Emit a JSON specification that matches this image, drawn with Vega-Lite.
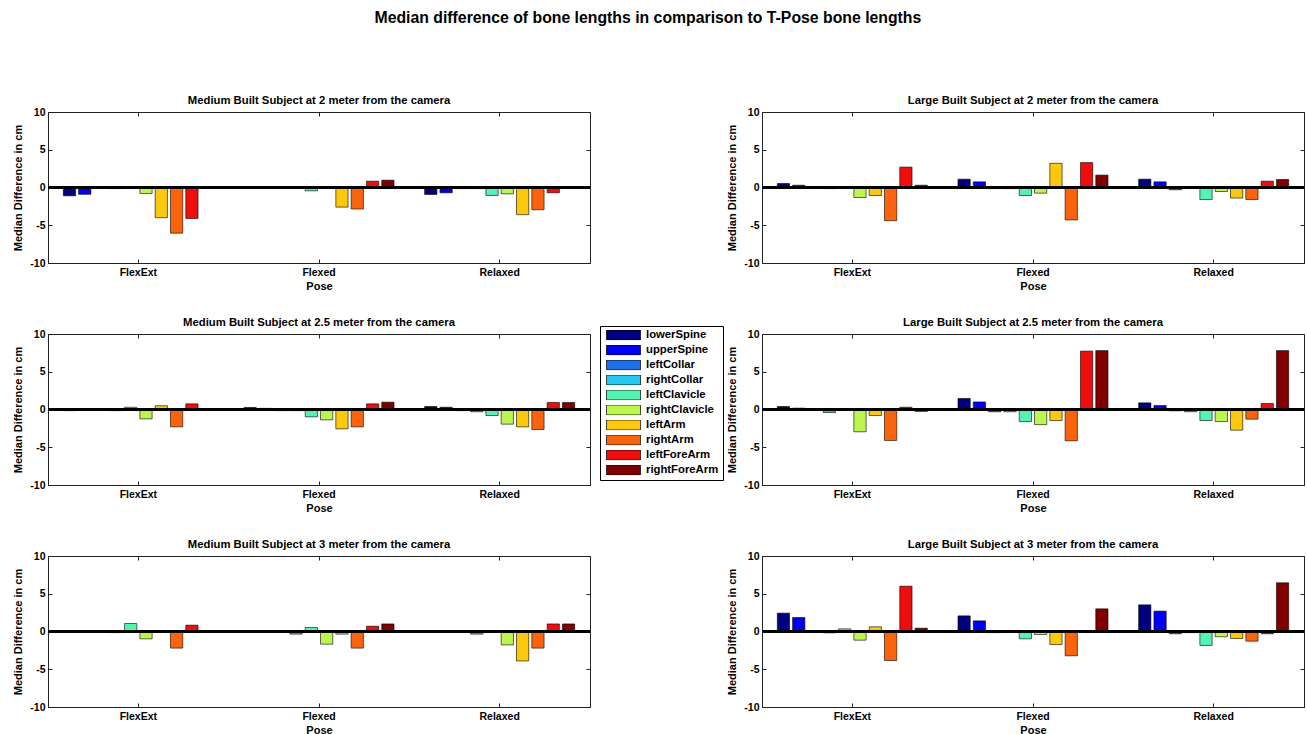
{
  "$schema": "https://vega.github.io/schema/vega-lite/v6.json",
  "padding": {"left": 12, "top": 10, "right": 0, "bottom": 0},
  "title": {"text": "Median difference of bone lengths in comparison to T-Pose bone lengths", "fontSize": 15.8, "fontWeight": "bold", "font": "Liberation Sans", "anchor": "middle", "offset": 67, "dx": -11, "color": "#000"},
  "data": {"values": [
    {"p":"M2","pose":"FlexExt","bone":"lowerSpine","v":-1.1},{"p":"M2","pose":"FlexExt","bone":"upperSpine","v":-0.9},{"p":"M2","pose":"FlexExt","bone":"leftCollar","v":0},{"p":"M2","pose":"FlexExt","bone":"rightCollar","v":-0.15},{"p":"M2","pose":"FlexExt","bone":"leftClavicle","v":0},{"p":"M2","pose":"FlexExt","bone":"rightClavicle","v":-0.8},{"p":"M2","pose":"FlexExt","bone":"leftArm","v":-4.0},{"p":"M2","pose":"FlexExt","bone":"rightArm","v":-6.05},{"p":"M2","pose":"FlexExt","bone":"leftForeArm","v":-4.1},{"p":"M2","pose":"FlexExt","bone":"rightForeArm","v":0},
    {"p":"M2","pose":"Flexed","bone":"lowerSpine","v":0.1},{"p":"M2","pose":"Flexed","bone":"upperSpine","v":0},{"p":"M2","pose":"Flexed","bone":"leftCollar","v":0},{"p":"M2","pose":"Flexed","bone":"rightCollar","v":0},{"p":"M2","pose":"Flexed","bone":"leftClavicle","v":-0.44},{"p":"M2","pose":"Flexed","bone":"rightClavicle","v":0},{"p":"M2","pose":"Flexed","bone":"leftArm","v":-2.6},{"p":"M2","pose":"Flexed","bone":"rightArm","v":-2.85},{"p":"M2","pose":"Flexed","bone":"leftForeArm","v":0.84},{"p":"M2","pose":"Flexed","bone":"rightForeArm","v":0.97},
    {"p":"M2","pose":"Relaxed","bone":"lowerSpine","v":-0.92},{"p":"M2","pose":"Relaxed","bone":"upperSpine","v":-0.7},{"p":"M2","pose":"Relaxed","bone":"leftCollar","v":-0.15},{"p":"M2","pose":"Relaxed","bone":"rightCollar","v":-0.15},{"p":"M2","pose":"Relaxed","bone":"leftClavicle","v":-1.05},{"p":"M2","pose":"Relaxed","bone":"rightClavicle","v":-0.84},{"p":"M2","pose":"Relaxed","bone":"leftArm","v":-3.6},{"p":"M2","pose":"Relaxed","bone":"rightArm","v":-2.95},{"p":"M2","pose":"Relaxed","bone":"leftForeArm","v":-0.7},{"p":"M2","pose":"Relaxed","bone":"rightForeArm","v":0},
    {"p":"L2","pose":"FlexExt","bone":"lowerSpine","v":0.53},{"p":"L2","pose":"FlexExt","bone":"upperSpine","v":0.3},{"p":"L2","pose":"FlexExt","bone":"leftCollar","v":0},{"p":"L2","pose":"FlexExt","bone":"rightCollar","v":-0.15},{"p":"L2","pose":"FlexExt","bone":"leftClavicle","v":0},{"p":"L2","pose":"FlexExt","bone":"rightClavicle","v":-1.33},{"p":"L2","pose":"FlexExt","bone":"leftArm","v":-1.06},{"p":"L2","pose":"FlexExt","bone":"rightArm","v":-4.4},{"p":"L2","pose":"FlexExt","bone":"leftForeArm","v":2.7},{"p":"L2","pose":"FlexExt","bone":"rightForeArm","v":0.3},
    {"p":"L2","pose":"Flexed","bone":"lowerSpine","v":1.1},{"p":"L2","pose":"Flexed","bone":"upperSpine","v":0.75},{"p":"L2","pose":"Flexed","bone":"leftCollar","v":-0.15},{"p":"L2","pose":"Flexed","bone":"rightCollar","v":-0.15},{"p":"L2","pose":"Flexed","bone":"leftClavicle","v":-1.06},{"p":"L2","pose":"Flexed","bone":"rightClavicle","v":-0.75},{"p":"L2","pose":"Flexed","bone":"leftArm","v":3.2},{"p":"L2","pose":"Flexed","bone":"rightArm","v":-4.3},{"p":"L2","pose":"Flexed","bone":"leftForeArm","v":3.3},{"p":"L2","pose":"Flexed","bone":"rightForeArm","v":1.64},
    {"p":"L2","pose":"Relaxed","bone":"lowerSpine","v":1.1},{"p":"L2","pose":"Relaxed","bone":"upperSpine","v":0.75},{"p":"L2","pose":"Relaxed","bone":"leftCollar","v":-0.3},{"p":"L2","pose":"Relaxed","bone":"rightCollar","v":0},{"p":"L2","pose":"Relaxed","bone":"leftClavicle","v":-1.6},{"p":"L2","pose":"Relaxed","bone":"rightClavicle","v":-0.53},{"p":"L2","pose":"Relaxed","bone":"leftArm","v":-1.4},{"p":"L2","pose":"Relaxed","bone":"rightArm","v":-1.6},{"p":"L2","pose":"Relaxed","bone":"leftForeArm","v":0.84},{"p":"L2","pose":"Relaxed","bone":"rightForeArm","v":1.06},
    {"p":"M25","pose":"FlexExt","bone":"lowerSpine","v":-0.15},{"p":"M25","pose":"FlexExt","bone":"upperSpine","v":0},{"p":"M25","pose":"FlexExt","bone":"leftCollar","v":0},{"p":"M25","pose":"FlexExt","bone":"rightCollar","v":-0.15},{"p":"M25","pose":"FlexExt","bone":"leftClavicle","v":0.3},{"p":"M25","pose":"FlexExt","bone":"rightClavicle","v":-1.24},{"p":"M25","pose":"FlexExt","bone":"leftArm","v":0.5},{"p":"M25","pose":"FlexExt","bone":"rightArm","v":-2.3},{"p":"M25","pose":"FlexExt","bone":"leftForeArm","v":0.75},{"p":"M25","pose":"FlexExt","bone":"rightForeArm","v":0},
    {"p":"M25","pose":"Flexed","bone":"lowerSpine","v":0.27},{"p":"M25","pose":"Flexed","bone":"upperSpine","v":0.15},{"p":"M25","pose":"Flexed","bone":"leftCollar","v":-0.15},{"p":"M25","pose":"Flexed","bone":"rightCollar","v":-0.15},{"p":"M25","pose":"Flexed","bone":"leftClavicle","v":-0.97},{"p":"M25","pose":"Flexed","bone":"rightClavicle","v":-1.37},{"p":"M25","pose":"Flexed","bone":"leftArm","v":-2.56},{"p":"M25","pose":"Flexed","bone":"rightArm","v":-2.3},{"p":"M25","pose":"Flexed","bone":"leftForeArm","v":0.75},{"p":"M25","pose":"Flexed","bone":"rightForeArm","v":0.97},
    {"p":"M25","pose":"Relaxed","bone":"lowerSpine","v":0.4},{"p":"M25","pose":"Relaxed","bone":"upperSpine","v":0.3},{"p":"M25","pose":"Relaxed","bone":"leftCollar","v":-0.15},{"p":"M25","pose":"Relaxed","bone":"rightCollar","v":-0.3},{"p":"M25","pose":"Relaxed","bone":"leftClavicle","v":-0.8},{"p":"M25","pose":"Relaxed","bone":"rightClavicle","v":-1.94},{"p":"M25","pose":"Relaxed","bone":"leftArm","v":-2.3},{"p":"M25","pose":"Relaxed","bone":"rightArm","v":-2.65},{"p":"M25","pose":"Relaxed","bone":"leftForeArm","v":0.93},{"p":"M25","pose":"Relaxed","bone":"rightForeArm","v":0.93},
    {"p":"L25","pose":"FlexExt","bone":"lowerSpine","v":0.4},{"p":"L25","pose":"FlexExt","bone":"upperSpine","v":0.18},{"p":"L25","pose":"FlexExt","bone":"leftCollar","v":0},{"p":"L25","pose":"FlexExt","bone":"rightCollar","v":-0.4},{"p":"L25","pose":"FlexExt","bone":"leftClavicle","v":0.1},{"p":"L25","pose":"FlexExt","bone":"rightClavicle","v":-2.95},{"p":"L25","pose":"FlexExt","bone":"leftArm","v":-0.8},{"p":"L25","pose":"FlexExt","bone":"rightArm","v":-4.1},{"p":"L25","pose":"FlexExt","bone":"leftForeArm","v":0.3},{"p":"L25","pose":"FlexExt","bone":"rightForeArm","v":-0.25},
    {"p":"L25","pose":"Flexed","bone":"lowerSpine","v":1.46},{"p":"L25","pose":"Flexed","bone":"upperSpine","v":1.0},{"p":"L25","pose":"Flexed","bone":"leftCollar","v":-0.3},{"p":"L25","pose":"Flexed","bone":"rightCollar","v":-0.3},{"p":"L25","pose":"Flexed","bone":"leftClavicle","v":-1.6},{"p":"L25","pose":"Flexed","bone":"rightClavicle","v":-2.0},{"p":"L25","pose":"Flexed","bone":"leftArm","v":-1.46},{"p":"L25","pose":"Flexed","bone":"rightArm","v":-4.15},{"p":"L25","pose":"Flexed","bone":"leftForeArm","v":7.73},{"p":"L25","pose":"Flexed","bone":"rightForeArm","v":7.8},
    {"p":"L25","pose":"Relaxed","bone":"lowerSpine","v":0.88},{"p":"L25","pose":"Relaxed","bone":"upperSpine","v":0.53},{"p":"L25","pose":"Relaxed","bone":"leftCollar","v":-0.18},{"p":"L25","pose":"Relaxed","bone":"rightCollar","v":-0.3},{"p":"L25","pose":"Relaxed","bone":"leftClavicle","v":-1.46},{"p":"L25","pose":"Relaxed","bone":"rightClavicle","v":-1.6},{"p":"L25","pose":"Relaxed","bone":"leftArm","v":-2.74},{"p":"L25","pose":"Relaxed","bone":"rightArm","v":-1.28},{"p":"L25","pose":"Relaxed","bone":"leftForeArm","v":0.8},{"p":"L25","pose":"Relaxed","bone":"rightForeArm","v":7.8},
    {"p":"M3","pose":"FlexExt","bone":"lowerSpine","v":0},{"p":"M3","pose":"FlexExt","bone":"upperSpine","v":0},{"p":"M3","pose":"FlexExt","bone":"leftCollar","v":0},{"p":"M3","pose":"FlexExt","bone":"rightCollar","v":-0.15},{"p":"M3","pose":"FlexExt","bone":"leftClavicle","v":1.06},{"p":"M3","pose":"FlexExt","bone":"rightClavicle","v":-0.97},{"p":"M3","pose":"FlexExt","bone":"leftArm","v":0.1},{"p":"M3","pose":"FlexExt","bone":"rightArm","v":-2.2},{"p":"M3","pose":"FlexExt","bone":"leftForeArm","v":0.84},{"p":"M3","pose":"FlexExt","bone":"rightForeArm","v":0},
    {"p":"M3","pose":"Flexed","bone":"lowerSpine","v":0},{"p":"M3","pose":"Flexed","bone":"upperSpine","v":0},{"p":"M3","pose":"Flexed","bone":"leftCollar","v":0},{"p":"M3","pose":"Flexed","bone":"rightCollar","v":-0.35},{"p":"M3","pose":"Flexed","bone":"leftClavicle","v":0.53},{"p":"M3","pose":"Flexed","bone":"rightClavicle","v":-1.68},{"p":"M3","pose":"Flexed","bone":"leftArm","v":-0.35},{"p":"M3","pose":"Flexed","bone":"rightArm","v":-2.2},{"p":"M3","pose":"Flexed","bone":"leftForeArm","v":0.7},{"p":"M3","pose":"Flexed","bone":"rightForeArm","v":1.0},
    {"p":"M3","pose":"Relaxed","bone":"lowerSpine","v":0.1},{"p":"M3","pose":"Relaxed","bone":"upperSpine","v":0},{"p":"M3","pose":"Relaxed","bone":"leftCollar","v":0},{"p":"M3","pose":"Relaxed","bone":"rightCollar","v":-0.35},{"p":"M3","pose":"Relaxed","bone":"leftClavicle","v":0.1},{"p":"M3","pose":"Relaxed","bone":"rightClavicle","v":-1.77},{"p":"M3","pose":"Relaxed","bone":"leftArm","v":-3.9},{"p":"M3","pose":"Relaxed","bone":"rightArm","v":-2.2},{"p":"M3","pose":"Relaxed","bone":"leftForeArm","v":1.0},{"p":"M3","pose":"Relaxed","bone":"rightForeArm","v":1.0},
    {"p":"L3","pose":"FlexExt","bone":"lowerSpine","v":2.43},{"p":"L3","pose":"FlexExt","bone":"upperSpine","v":1.85},{"p":"L3","pose":"FlexExt","bone":"leftCollar","v":0},{"p":"L3","pose":"FlexExt","bone":"rightCollar","v":-0.18},{"p":"L3","pose":"FlexExt","bone":"leftClavicle","v":0.35},{"p":"L3","pose":"FlexExt","bone":"rightClavicle","v":-1.15},{"p":"L3","pose":"FlexExt","bone":"leftArm","v":0.62},{"p":"L3","pose":"FlexExt","bone":"rightArm","v":-3.84},{"p":"L3","pose":"FlexExt","bone":"leftForeArm","v":6.0},{"p":"L3","pose":"FlexExt","bone":"rightForeArm","v":0.44},
    {"p":"L3","pose":"Flexed","bone":"lowerSpine","v":2.07},{"p":"L3","pose":"Flexed","bone":"upperSpine","v":1.41},{"p":"L3","pose":"Flexed","bone":"leftCollar","v":-0.15},{"p":"L3","pose":"Flexed","bone":"rightCollar","v":0},{"p":"L3","pose":"Flexed","bone":"leftClavicle","v":-0.97},{"p":"L3","pose":"Flexed","bone":"rightClavicle","v":-0.4},{"p":"L3","pose":"Flexed","bone":"leftArm","v":-1.72},{"p":"L3","pose":"Flexed","bone":"rightArm","v":-3.22},{"p":"L3","pose":"Flexed","bone":"leftForeArm","v":0},{"p":"L3","pose":"Flexed","bone":"rightForeArm","v":3.0},
    {"p":"L3","pose":"Relaxed","bone":"lowerSpine","v":3.53},{"p":"L3","pose":"Relaxed","bone":"upperSpine","v":2.7},{"p":"L3","pose":"Relaxed","bone":"leftCollar","v":-0.3},{"p":"L3","pose":"Relaxed","bone":"rightCollar","v":-0.15},{"p":"L3","pose":"Relaxed","bone":"leftClavicle","v":-1.85},{"p":"L3","pose":"Relaxed","bone":"rightClavicle","v":-0.7},{"p":"L3","pose":"Relaxed","bone":"leftArm","v":-0.93},{"p":"L3","pose":"Relaxed","bone":"rightArm","v":-1.28},{"p":"L3","pose":"Relaxed","bone":"leftForeArm","v":-0.3},{"p":"L3","pose":"Relaxed","bone":"rightForeArm","v":6.45}
  ]},
  "vconcat": [
    {"hconcat": [
      {"title": "Medium Built Subject at 2 meter from the camera", "width": 542, "height": 151, "transform": [{"filter": "datum.p==='M2'"}],
       "layer": [
        {"mark": {"type": "bar", "stroke": "#000", "strokeWidth": 0.6}, "encoding": {
          "x": {"field": "pose", "type": "nominal", "sort": ["FlexExt","Flexed","Relaxed"], "scale": {"paddingInner": 0, "paddingOuter": 0}, "axis": {"title": "Pose", "labelAngle": 0, "titlePadding": 3, "labelPadding": 8}},
          "xOffset": {"field": "bone", "type": "nominal", "sort": ["lowerSpine","upperSpine","leftCollar","rightCollar","leftClavicle","rightClavicle","leftArm","rightArm","leftForeArm","rightForeArm"], "scale": {"paddingInner": 0.2, "paddingOuter": 1.39}},
          "y": {"field": "v", "type": "quantitative", "scale": {"domain": [-10, 10], "nice": false}, "axis": {"values": [-10,-5,0,5,10], "title": "Median Difference in cm", "labelExpr": "''+datum.value", "titlePadding": 6}},
          "color": {"field": "bone", "type": "nominal", "sort": ["lowerSpine","upperSpine","leftCollar","rightCollar","leftClavicle","rightClavicle","leftArm","rightArm","leftForeArm","rightForeArm"], "scale": {"domain": ["lowerSpine","upperSpine","leftCollar","rightCollar","leftClavicle","rightClavicle","leftArm","rightArm","leftForeArm","rightForeArm"], "range": ["#00007f","#0000f0","#1f6fe6","#22c8f0","#55f2b4","#bdf550","#fcc80e","#fb640c","#ef0d0d","#800000"]}}
        }},
        {"mark": {"type": "rule", "color": "#000", "strokeWidth": 2}, "encoding": {"y": {"datum": 0, "type": "quantitative", "axis": {"orient": "right", "labels": false, "title": null, "domain": false, "labelPadding": 0, "values": [-10,-5,0,5,10]}}}},
        {"mark": {"type": "tick", "opacity": 0}, "encoding": {"x": {"field": "pose", "type": "nominal", "sort": ["FlexExt","Flexed","Relaxed"], "axis": {"orient": "top", "labels": false, "title": null, "domain": false, "labelPadding": 0}}}}
       ],
       "resolve": {"axis": {"x": "independent", "y": "independent"}}},
      {"title": "Large Built Subject at 2 meter from the camera", "width": 542, "height": 151, "transform": [{"filter": "datum.p==='L2'"}],
       "layer": [
        {"mark": {"type": "bar", "stroke": "#000", "strokeWidth": 0.6}, "encoding": {
          "x": {"field": "pose", "type": "nominal", "sort": ["FlexExt","Flexed","Relaxed"], "scale": {"paddingInner": 0, "paddingOuter": 0}, "axis": {"title": "Pose", "labelAngle": 0, "titlePadding": 3, "labelPadding": 8}},
          "xOffset": {"field": "bone", "type": "nominal", "sort": ["lowerSpine","upperSpine","leftCollar","rightCollar","leftClavicle","rightClavicle","leftArm","rightArm","leftForeArm","rightForeArm"], "scale": {"paddingInner": 0.2, "paddingOuter": 1.39}},
          "y": {"field": "v", "type": "quantitative", "scale": {"domain": [-10, 10], "nice": false}, "axis": {"values": [-10,-5,0,5,10], "title": "Median Difference in cm", "labelExpr": "''+datum.value", "titlePadding": 6}},
          "color": {"field": "bone", "type": "nominal", "sort": ["lowerSpine","upperSpine","leftCollar","rightCollar","leftClavicle","rightClavicle","leftArm","rightArm","leftForeArm","rightForeArm"], "scale": {"domain": ["lowerSpine","upperSpine","leftCollar","rightCollar","leftClavicle","rightClavicle","leftArm","rightArm","leftForeArm","rightForeArm"], "range": ["#00007f","#0000f0","#1f6fe6","#22c8f0","#55f2b4","#bdf550","#fcc80e","#fb640c","#ef0d0d","#800000"]}}
        }},
        {"mark": {"type": "rule", "color": "#000", "strokeWidth": 2}, "encoding": {"y": {"datum": 0, "type": "quantitative", "axis": {"orient": "right", "labels": false, "title": null, "domain": false, "labelPadding": 0, "values": [-10,-5,0,5,10]}}}},
        {"mark": {"type": "tick", "opacity": 0}, "encoding": {"x": {"field": "pose", "type": "nominal", "sort": ["FlexExt","Flexed","Relaxed"], "axis": {"orient": "top", "labels": false, "title": null, "domain": false, "labelPadding": 0}}}}
       ],
       "resolve": {"axis": {"x": "independent", "y": "independent"}}}
    ], "spacing": 134},
    {"hconcat": [
      {"title": "Medium Built Subject at 2.5 meter from the camera", "width": 542, "height": 151, "transform": [{"filter": "datum.p==='M25'"}],
       "layer": [
        {"mark": {"type": "bar", "stroke": "#000", "strokeWidth": 0.6}, "encoding": {
          "x": {"field": "pose", "type": "nominal", "sort": ["FlexExt","Flexed","Relaxed"], "scale": {"paddingInner": 0, "paddingOuter": 0}, "axis": {"title": "Pose", "labelAngle": 0, "titlePadding": 3, "labelPadding": 8}},
          "xOffset": {"field": "bone", "type": "nominal", "sort": ["lowerSpine","upperSpine","leftCollar","rightCollar","leftClavicle","rightClavicle","leftArm","rightArm","leftForeArm","rightForeArm"], "scale": {"paddingInner": 0.2, "paddingOuter": 1.39}},
          "y": {"field": "v", "type": "quantitative", "scale": {"domain": [-10, 10], "nice": false}, "axis": {"values": [-10,-5,0,5,10], "title": "Median Difference in cm", "labelExpr": "''+datum.value", "titlePadding": 6}},
          "color": {"field": "bone", "type": "nominal", "sort": ["lowerSpine","upperSpine","leftCollar","rightCollar","leftClavicle","rightClavicle","leftArm","rightArm","leftForeArm","rightForeArm"], "scale": {"domain": ["lowerSpine","upperSpine","leftCollar","rightCollar","leftClavicle","rightClavicle","leftArm","rightArm","leftForeArm","rightForeArm"], "range": ["#00007f","#0000f0","#1f6fe6","#22c8f0","#55f2b4","#bdf550","#fcc80e","#fb640c","#ef0d0d","#800000"]}}
        }},
        {"mark": {"type": "rule", "color": "#000", "strokeWidth": 2}, "encoding": {"y": {"datum": 0, "type": "quantitative", "axis": {"orient": "right", "labels": false, "title": null, "domain": false, "labelPadding": 0, "values": [-10,-5,0,5,10]}}}},
        {"mark": {"type": "tick", "opacity": 0}, "encoding": {"x": {"field": "pose", "type": "nominal", "sort": ["FlexExt","Flexed","Relaxed"], "axis": {"orient": "top", "labels": false, "title": null, "domain": false, "labelPadding": 0}}}}
       ],
       "resolve": {"axis": {"x": "independent", "y": "independent"}}},
      {"title": "Large Built Subject at 2.5 meter from the camera", "width": 542, "height": 151, "transform": [{"filter": "datum.p==='L25'"}],
       "layer": [
        {"mark": {"type": "bar", "stroke": "#000", "strokeWidth": 0.6}, "encoding": {
          "x": {"field": "pose", "type": "nominal", "sort": ["FlexExt","Flexed","Relaxed"], "scale": {"paddingInner": 0, "paddingOuter": 0}, "axis": {"title": "Pose", "labelAngle": 0, "titlePadding": 3, "labelPadding": 8}},
          "xOffset": {"field": "bone", "type": "nominal", "sort": ["lowerSpine","upperSpine","leftCollar","rightCollar","leftClavicle","rightClavicle","leftArm","rightArm","leftForeArm","rightForeArm"], "scale": {"paddingInner": 0.2, "paddingOuter": 1.39}},
          "y": {"field": "v", "type": "quantitative", "scale": {"domain": [-10, 10], "nice": false}, "axis": {"values": [-10,-5,0,5,10], "title": "Median Difference in cm", "labelExpr": "''+datum.value", "titlePadding": 6}},
          "color": {"field": "bone", "type": "nominal", "sort": ["lowerSpine","upperSpine","leftCollar","rightCollar","leftClavicle","rightClavicle","leftArm","rightArm","leftForeArm","rightForeArm"], "scale": {"domain": ["lowerSpine","upperSpine","leftCollar","rightCollar","leftClavicle","rightClavicle","leftArm","rightArm","leftForeArm","rightForeArm"], "range": ["#00007f","#0000f0","#1f6fe6","#22c8f0","#55f2b4","#bdf550","#fcc80e","#fb640c","#ef0d0d","#800000"]}}
        }},
        {"mark": {"type": "rule", "color": "#000", "strokeWidth": 2}, "encoding": {"y": {"datum": 0, "type": "quantitative", "axis": {"orient": "right", "labels": false, "title": null, "domain": false, "labelPadding": 0, "values": [-10,-5,0,5,10]}}}},
        {"mark": {"type": "tick", "opacity": 0}, "encoding": {"x": {"field": "pose", "type": "nominal", "sort": ["FlexExt","Flexed","Relaxed"], "axis": {"orient": "top", "labels": false, "title": null, "domain": false, "labelPadding": 0}}}}
       ],
       "resolve": {"axis": {"x": "independent", "y": "independent"}}}
    ], "spacing": 134},
    {"hconcat": [
      {"title": "Medium Built Subject at 3 meter from the camera", "width": 542, "height": 151, "transform": [{"filter": "datum.p==='M3'"}],
       "layer": [
        {"mark": {"type": "bar", "stroke": "#000", "strokeWidth": 0.6}, "encoding": {
          "x": {"field": "pose", "type": "nominal", "sort": ["FlexExt","Flexed","Relaxed"], "scale": {"paddingInner": 0, "paddingOuter": 0}, "axis": {"title": "Pose", "labelAngle": 0, "titlePadding": 3, "labelPadding": 8}},
          "xOffset": {"field": "bone", "type": "nominal", "sort": ["lowerSpine","upperSpine","leftCollar","rightCollar","leftClavicle","rightClavicle","leftArm","rightArm","leftForeArm","rightForeArm"], "scale": {"paddingInner": 0.2, "paddingOuter": 1.39}},
          "y": {"field": "v", "type": "quantitative", "scale": {"domain": [-10, 10], "nice": false}, "axis": {"values": [-10,-5,0,5,10], "title": "Median Difference in cm", "labelExpr": "''+datum.value", "titlePadding": 6}},
          "color": {"field": "bone", "type": "nominal", "sort": ["lowerSpine","upperSpine","leftCollar","rightCollar","leftClavicle","rightClavicle","leftArm","rightArm","leftForeArm","rightForeArm"], "scale": {"domain": ["lowerSpine","upperSpine","leftCollar","rightCollar","leftClavicle","rightClavicle","leftArm","rightArm","leftForeArm","rightForeArm"], "range": ["#00007f","#0000f0","#1f6fe6","#22c8f0","#55f2b4","#bdf550","#fcc80e","#fb640c","#ef0d0d","#800000"]}}
        }},
        {"mark": {"type": "rule", "color": "#000", "strokeWidth": 2}, "encoding": {"y": {"datum": 0, "type": "quantitative", "axis": {"orient": "right", "labels": false, "title": null, "domain": false, "labelPadding": 0, "values": [-10,-5,0,5,10]}}}},
        {"mark": {"type": "tick", "opacity": 0}, "encoding": {"x": {"field": "pose", "type": "nominal", "sort": ["FlexExt","Flexed","Relaxed"], "axis": {"orient": "top", "labels": false, "title": null, "domain": false, "labelPadding": 0}}}}
       ],
       "resolve": {"axis": {"x": "independent", "y": "independent"}}},
      {"title": "Large Built Subject at 3 meter from the camera", "width": 542, "height": 151, "transform": [{"filter": "datum.p==='L3'"}],
       "layer": [
        {"mark": {"type": "bar", "stroke": "#000", "strokeWidth": 0.6}, "encoding": {
          "x": {"field": "pose", "type": "nominal", "sort": ["FlexExt","Flexed","Relaxed"], "scale": {"paddingInner": 0, "paddingOuter": 0}, "axis": {"title": "Pose", "labelAngle": 0, "titlePadding": 3, "labelPadding": 8}},
          "xOffset": {"field": "bone", "type": "nominal", "sort": ["lowerSpine","upperSpine","leftCollar","rightCollar","leftClavicle","rightClavicle","leftArm","rightArm","leftForeArm","rightForeArm"], "scale": {"paddingInner": 0.2, "paddingOuter": 1.39}},
          "y": {"field": "v", "type": "quantitative", "scale": {"domain": [-10, 10], "nice": false}, "axis": {"values": [-10,-5,0,5,10], "title": "Median Difference in cm", "labelExpr": "''+datum.value", "titlePadding": 6}},
          "color": {"field": "bone", "type": "nominal", "sort": ["lowerSpine","upperSpine","leftCollar","rightCollar","leftClavicle","rightClavicle","leftArm","rightArm","leftForeArm","rightForeArm"], "scale": {"domain": ["lowerSpine","upperSpine","leftCollar","rightCollar","leftClavicle","rightClavicle","leftArm","rightArm","leftForeArm","rightForeArm"], "range": ["#00007f","#0000f0","#1f6fe6","#22c8f0","#55f2b4","#bdf550","#fcc80e","#fb640c","#ef0d0d","#800000"]}}
        }},
        {"mark": {"type": "rule", "color": "#000", "strokeWidth": 2}, "encoding": {"y": {"datum": 0, "type": "quantitative", "axis": {"orient": "right", "labels": false, "title": null, "domain": false, "labelPadding": 0, "values": [-10,-5,0,5,10]}}}},
        {"mark": {"type": "tick", "opacity": 0}, "encoding": {"x": {"field": "pose", "type": "nominal", "sort": ["FlexExt","Flexed","Relaxed"], "axis": {"orient": "top", "labels": false, "title": null, "domain": false, "labelPadding": 0}}}}
       ],
       "resolve": {"axis": {"x": "independent", "y": "independent"}}}
    ], "spacing": 134}
  ],
  "spacing": 24,
  "config": {
    "font": "Liberation Sans",
    "view": {"stroke": "#222", "strokeWidth": 1},
    "axis": {"labelFont": "Liberation Sans", "labelFontWeight": "bold", "labelFontSize": 10.5, "labelColor": "#000", "titleFont": "Liberation Sans", "titleFontWeight": "bold", "titleFontSize": 11, "titleColor": "#000", "grid": false, "domainColor": "#222", "tickColor": "#222", "tickSize": -4, "labelPadding": 7},
    "title": {"font": "Liberation Sans", "fontSize": 11.3, "fontWeight": "bold", "color": "#000", "offset": 1},
    "legend": {"orient": "none", "legendX": 552, "legendY": 214, "title": null, "strokeColor": "#000", "fillColor": "#fff", "padding": 4, "symbolOffset": 2, "symbolType": "M-1,-0.29H1V0.29H-1Z", "symbolSize": 1156, "clipHeight": 10, "rowPadding": 3, "labelFont": "Liberation Sans", "labelFontSize": 11.3, "labelFontWeight": "bold", "labelColor": "#000", "symbolStrokeColor": "#000", "symbolStrokeWidth": 0.7, "labelOffset": 5, "symbolOpacity": 1}
  }
}
